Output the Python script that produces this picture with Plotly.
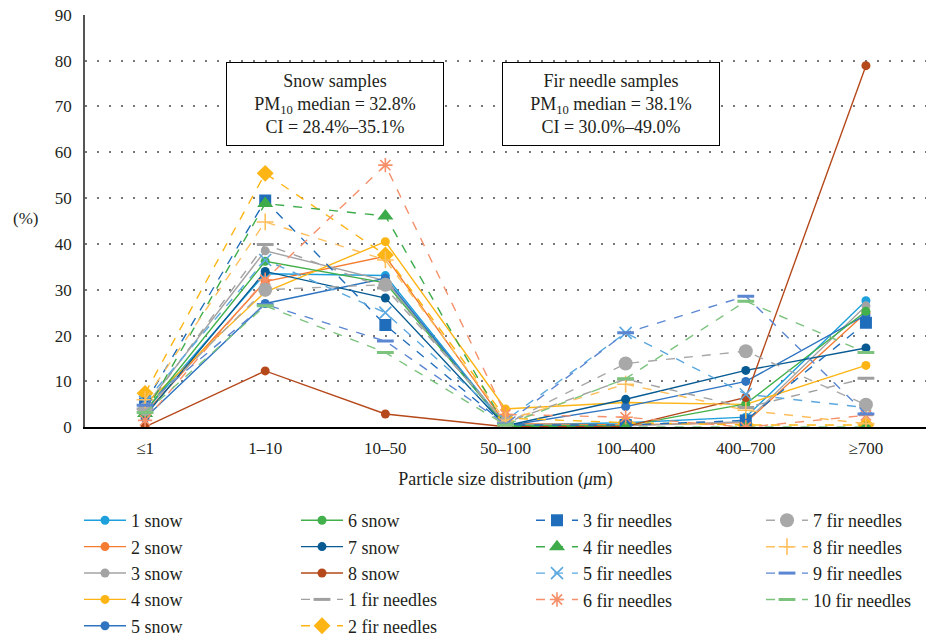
import plotly.graph_objects as go

categories = ["≤1", "1–10", "10–50", "50–100", "100–400", "400–700", "≥700"]

snow1 = [3.5, 33.5, 33.1, 0.5, 1.0, 2.2, 27.6]
snow2 = [3.0, 31.8, 37.3, 0.8, 0.5, 1.0, 25.0]
snow3 = [4.5, 38.5, 32.0, 0.6, 0.3, 1.2, 26.5]
snow4 = [5.0, 29.5, 40.5, 4.0, 5.4, 5.0, 13.5]
snow5 = [2.0, 27.0, 32.5, 0.3, 4.5, 10.0, 24.5]
snow6 = [3.5, 36.2, 31.5, 0.4, 0.3, 5.1, 25.3]
snow7 = [2.5, 34.0, 28.2, 0.3, 6.1, 12.4, 17.3]
snow8 = [0.1, 12.3, 2.9, 0.1, 0.2, 6.5, 78.9]
fir1 = [4.0, 39.9, 30.4, 1.0, 10.5, 4.3, 10.7]
fir2 = [7.4, 55.4, 37.6, 2.0, 1.0, 0.5, 0.5]
fir3 = [5.2, 49.5, 22.3, 0.5, 0.5, 1.5, 22.8]
fir4 = [3.0, 48.8, 46.1, 0.2, 0.0, 0.0, 0.0]
fir5 = [5.5, 36.5, 25.0, 1.5, 20.6, 7.2, 4.3]
fir6 = [1.5, 32.2, 57.2, 2.8, 2.2, 0.0, 2.6]
fir7 = [4.0, 30.0, 31.1, 0.8, 13.9, 16.6, 4.9]
fir8 = [6.0, 44.8, 36.5, 1.5, 9.4, 3.7, 0.8]
fir9 = [4.8, 26.8, 18.8, 0.7, 20.6, 28.6, 2.9]
fir10 = [3.2, 26.5, 16.3, 0.5, 10.6, 27.5, 16.3]

series = [
    ("1 snow", snow1), ("2 snow", snow2), ("3 snow", snow3), ("4 snow", snow4),
    ("5 snow", snow5), ("6 snow", snow6), ("7 snow", snow7), ("8 snow", snow8),
    ("1 fir needles", fir1), ("2 fir needles", fir2), ("3 fir needles", fir3),
    ("4 fir needles", fir4), ("5 fir needles", fir5), ("6 fir needles", fir6),
    ("7 fir needles", fir7), ("8 fir needles", fir8), ("9 fir needles", fir9),
    ("10 fir needles", fir10),
]

styles = {
    "1 snow": ("#1ea0dd", "circle", 9, "solid", "legend"),
    "2 snow": ("#f47b30", "circle", 9, "solid", "legend"),
    "3 snow": ("#a3a3a3", "circle", 9, "solid", "legend"),
    "4 snow": ("#fdb515", "circle", 9, "solid", "legend"),
    "5 snow": ("#2e74c0", "circle", 9, "solid", "legend"),
    "6 snow": ("#42b04b", "circle", 9, "solid", "legend2"),
    "7 snow": ("#075b92", "circle", 9, "solid", "legend2"),
    "8 snow": ("#b5491b", "circle", 9, "solid", "legend2"),
    "1 fir needles": ("#a0a0a0", "line-ew", 12, "dash", "legend2"),
    "2 fir needles": ("#fdb515", "diamond", 13, "dash", "legend2"),
    "3 fir needles": ("#1f6dbb", "square", 12, "dash", "legend3"),
    "4 fir needles": ("#3dab4a", "triangle-up", 14, "dash", "legend3"),
    "5 fir needles": ("#5aa8df", "x-thin", 12, "dash", "legend3"),
    "6 fir needles": ("#f6906a", "asterisk", 12, "dash", "legend3"),
    "7 fir needles": ("#a8a8a8", "circle", 14, "dash", "legend4"),
    "8 fir needles": ("#ffbf5c", "cross-thin", 12, "dash", "legend4"),
    "9 fir needles": ("#5b86d1", "line-ew", 12, "dash", "legend4"),
    "10 fir needles": ("#7cc37e", "line-ew", 12, "dash", "legend4"),
}

fig = go.Figure()
for i, (name, vals) in enumerate(series):
    color, sym, size, dash, leg = styles[name]
    marker = dict(symbol=sym, size=size, color=color)
    if sym in ("line-ew", "x-thin", "asterisk", "cross-thin"):
        marker["line"] = dict(color=color, width=3 if sym == "line-ew" else 1.6)
    fig.add_trace(go.Scatter(
        x=categories, y=vals, name=name, mode="lines+markers",
        line=dict(color=color, width=1.4, dash=dash),
        marker=marker, legend=leg, legendgroup=name,
    ))

font_family = "Liberation Serif, DejaVu Serif, serif"
txt = "#231f20"
W, H = 928, 644

leg_common = dict(font=dict(family=font_family, size=18, color=txt),
                  bgcolor="rgba(0,0,0,0)", yanchor="top", xanchor="left",
                  itemwidth=42, traceorder="grouped", tracegroupgap=0,
                  orientation="v")

leg_y = (H - 510) / H
fig.update_layout(
    width=W, height=H,
    margin=dict(l=0, r=0, t=0, b=0),
    plot_bgcolor="white", paper_bgcolor="white",
    font=dict(family=font_family, size=17, color=txt),
    legend=dict(x=79 / W, y=leg_y, **leg_common),
    legend2=dict(x=296 / W, y=leg_y, **leg_common),
    legend3=dict(x=531 / W, y=leg_y, **leg_common),
    legend4=dict(x=761 / W, y=leg_y, **leg_common),
    xaxis=dict(
        type="category", range=[-0.5, 6.5], showgrid=False,
        domain=[85 / W, 926 / W],
        showline=True, linecolor="#000000", linewidth=2,
        ticks="", tickfont=dict(size=17), ticklabelstandoff=4,
        title=dict(text="Particle size distribution (<i>μ</i>m)",
                   font=dict(size=18), standoff=16),
        automargin=False,
    ),
    yaxis=dict(
        range=[0, 90], dtick=10, showgrid=True, gridcolor="#777777",
        domain=[(H - 434) / H, (H - 15) / H],
        griddash="2px,10px", gridwidth=1.5, zeroline=False,
        showline=True, linecolor="#555555", linewidth=1.5,
        ticks="", tickfont=dict(size=17), ticklabelstandoff=8,
        automargin=False,
    ),
)

fig.add_annotation(x=25 / W, y=(H - 222) / H, xref="paper", yref="paper",
                   xanchor="center", yanchor="middle",
                   text="(%)", showarrow=False, font=dict(size=17))

box_text_1 = "Snow samples<br>PM<sub>10</sub> median = 32.8%<br>CI = 28.4%–35.1%"
box_text_2 = "Fir needle samples<br>PM<sub>10</sub> median = 38.1%<br>CI = 30.0%–49.0%"
for xc, t in [(1.58, box_text_1), (3.88, box_text_2)]:
    fig.add_annotation(x=xc, y=70.6, xref="x", yref="y", text=t, showarrow=False,
                       font=dict(size=18), bordercolor="#000000", borderwidth=1,
                       bgcolor="white", width=210, height=76, borderpad=3)

fig.write_html("out.html", config={"displayModeBar": False},
               post_script="document.body.style.margin='0';")
